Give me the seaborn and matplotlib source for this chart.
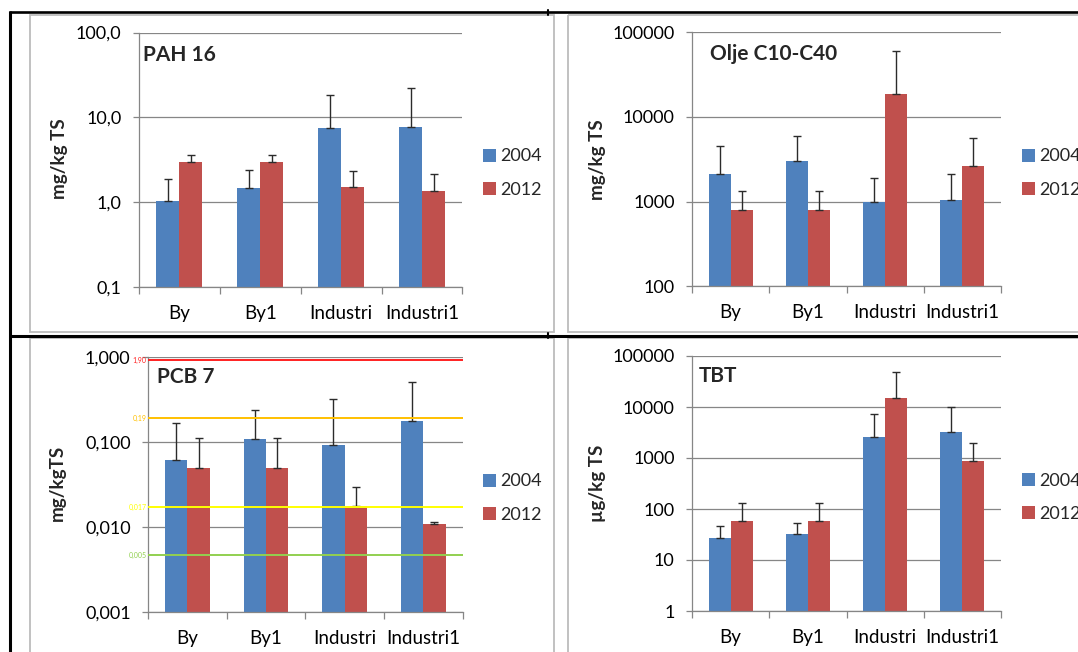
import numpy as np
import pandas as pd
import matplotlib
matplotlib.use("Agg")
import matplotlib.pyplot as plt
import seaborn as sns
from matplotlib.patches import Patch, Rectangle
from matplotlib.ticker import FixedLocator, FixedFormatter, NullLocator

# ---------------- data ----------------
categories = ["By", "By1", "Industri", "Industri1"]
years = ["2004", "2012"]

# PAH 16 (mg/kg TS): means and upper standard deviations
pah_2004 = [1.03, 1.46, 7.4, 7.6]
pah_2012 = [2.95, 2.95, 1.5, 1.36]
pah_2004_sd = [0.84, 0.91, 10.9, 14.8]
pah_2012_sd = [0.68, 0.68, 0.82, 0.76]
pah_ticks = [0.1, 1, 10, 100]
pah_tick_labels = ["0,1", "1,0", "10,0", "100,0"]

# Olje C10-C40 (mg/kg TS)
olje_2004 = [2100, 3040, 980, 1050]
olje_2012 = [790, 790, 18800, 2610]
olje_2004_sd = [2440, 2910, 920, 1090]
olje_2012_sd = [560, 560, 41000, 2990]
olje_ticks = [100, 1000, 10000, 100000]
olje_tick_labels = ["100", "1000", "10000", "100000"]

# PCB 7 (mg/kg TS)
pcb_2004 = [0.061, 0.107, 0.091, 0.175]
pcb_2012 = [0.0486, 0.0486, 0.0177, 0.0108]
pcb_2004_sd = [0.103, 0.127, 0.227, 0.333]
pcb_2012_sd = [0.0624, 0.0624, 0.0116, 0.0007]
pcb_ticks = [0.001, 0.01, 0.1, 1]
pcb_tick_labels = ["0,001", "0,010", "0,100", "1,000"]
# class limits drawn as horizontal lines
pcb_limits = [0.91, 0.19, 0.017, 0.0046]
pcb_limit_labels = ["1,90", "0,19", "0,017", "0,005"]
pcb_limit_colors = ["#ff2020", "#ffc000", "#ffff00", "#92d050"]

# TBT (µg/kg TS)
tbt_2004 = [27, 33, 2540, 3190]
tbt_2012 = [58, 58, 15000, 860]
tbt_2004_sd = [20, 21, 4860, 6660]
tbt_2012_sd = [73, 73, 34300, 1110]
tbt_ticks = [1, 10, 100, 1000, 10000, 100000]
tbt_tick_labels = ["1", "10", "100", "1000", "10000", "100000"]

# ---------------- style ----------------
sns.set_style("white")
plt.rcParams["font.family"] = ["Lato", "DejaVu Sans"]

BLUE = "#4f81bd"
RED = "#c0504d"
GRID = "#868686"
FRAME = "#bcbcbc"

W, H = 1078, 652
fig = plt.figure(figsize=(W / 100, H / 100), dpi=100)


def fig_box(x0, y0, x1, y1):
    """Axes rectangle from pixel corners measured from the top-left."""
    return [x0 / W, 1 - y1 / H, (x1 - x0) / W, (y1 - y0) / H]


# background layer: table rules and chart frames
bg = fig.add_axes([0, 0, 1, 1], zorder=-10)
bg.set_xlim(0, W)
bg.set_ylim(H, 0)
bg.axis("off")
for (x0, y0, x1, y1) in [(30, 14.5, 554, 332), (568, 14.5, 1090, 332),
                         (30, 338, 554, 670), (568, 338, 1090, 670)]:
    bg.add_patch(Rectangle((x0, y0), x1 - x0, y1 - y0, fill=False,
                           edgecolor=FRAME, lw=1.3))
bg.plot([9, W], [12, 12], color="black", lw=1.9, solid_capstyle="butt")
bg.plot([9, W], [335.5, 335.5], color="black", lw=2.2, solid_capstyle="butt")
bg.plot([10, 10], [11, H], color="black", lw=2.2, solid_capstyle="butt")
for yy in (12, 335.5):
    bg.plot([548, 548], [yy - 2.5, yy + 2.5], color="black", lw=1.5)

panels = [
    dict(title="PAH 16", v04=pah_2004, v12=pah_2012, s04=pah_2004_sd, s12=pah_2012_sd,
         ticks=pah_ticks, labels=pah_tick_labels, ylabel="mg/kg TS",
         box=(139, 32.5, 462.5, 286.7), title_xy=(0.012, 0.912),
         ylabel_xy=(59, 159), legend_xy=(483, 173)),
    dict(title="Olje C10-C40", v04=olje_2004, v12=olje_2012, s04=olje_2004_sd, s12=olje_2012_sd,
         ticks=olje_ticks, labels=olje_tick_labels, ylabel="mg/kg TS",
         box=(692, 32.3, 1001, 286.3), title_xy=(0.058, 0.913),
         ylabel_xy=(597, 160), legend_xy=(1022, 173)),
    dict(title="PCB 7", v04=pcb_2004, v12=pcb_2012, s04=pcb_2004_sd, s12=pcb_2012_sd,
         ticks=pcb_ticks, labels=pcb_tick_labels, ylabel="mg/kgTS",
         box=(148, 356.7, 462.5, 611.7), title_xy=(0.029, 0.919),
         ylabel_xy=(57, 483), legend_xy=(483, 498)),
    dict(title="TBT", v04=tbt_2004, v12=tbt_2012, s04=tbt_2004_sd, s12=tbt_2012_sd,
         ticks=tbt_ticks, labels=tbt_tick_labels, ylabel="µg/kg TS",
         box=(692, 356, 1001, 611), title_xy=(0.023, 0.922),
         ylabel_xy=(597, 483), legend_xy=(1022, 497.5)),
]

for p in panels:
    ax = fig.add_axes(fig_box(*p["box"]))
    ax.set_yscale("log")
    df = pd.DataFrame({
        "site": categories * 2,
        "year": [years[0]] * len(categories) + [years[1]] * len(categories),
        "value": list(p["v04"]) + list(p["v12"]),
    })
    sns.barplot(data=df, x="site", y="value", hue="year", palette=[BLUE, RED],
                width=0.57, gap=0, errorbar=None, legend=False, saturation=1,
                ax=ax)

    floor = p["ticks"][0]
    # bars rise from the bottom of the log axis; error bars point upward only
    for cont, vals, sds, col in zip(ax.containers, [p["v04"], p["v12"]],
                                    [p["s04"], p["s12"]], [BLUE, RED]):
        xs = []
        for bar, v in zip(cont, vals):
            bar.set_y(floor)
            bar.set_height(v - floor)
            bar.set_facecolor(col)
            bar.set_edgecolor("none")
            bar.set_alpha(1)
            bar.set_zorder(2)
            xs.append(bar.get_x() + bar.get_width() / 2)
        ax.errorbar(xs, vals, yerr=[np.zeros(len(sds)), sds], fmt="none",
                    ecolor="#2b2b2b", elinewidth=1.0, capsize=3.2, capthick=1.0,
                    zorder=3)

    ax.set_ylim(p["ticks"][0], p["ticks"][-1])
    ax.yaxis.set_major_locator(FixedLocator(p["ticks"]))
    ax.yaxis.set_major_formatter(FixedFormatter(p["labels"]))
    ax.yaxis.set_minor_locator(NullLocator())
    ax.set_xlim(-0.5, len(categories) - 0.5)
    ax.set_xticks(range(len(categories)))
    ax.set_xticklabels(categories)
    ax.set_xticks(np.arange(-0.5, len(categories)), minor=True)
    ax.set_xlabel("")
    ax.set_ylabel("")

    ax.grid(axis="y", which="major", color=GRID, lw=0.9)
    ax.grid(axis="x", visible=False)
    ax.set_axisbelow(True)
    for side in ("top", "right"):
        ax.spines[side].set_visible(False)
    for side in ("left", "bottom"):
        ax.spines[side].set_color(GRID)
        ax.spines[side].set_linewidth(0.9)
    ax.tick_params(axis="y", which="major", left=True, length=4.5, width=0.9,
                   color=GRID, labelsize=13, pad=8, labelcolor="black")
    ax.tick_params(axis="x", which="major", bottom=True, length=0, labelsize=13.5, pad=13,
                   labelcolor="black")
    ax.tick_params(axis="x", which="minor", bottom=True, length=5, width=0.9,
                   color=GRID, direction="out")

    ax.text(*p["title_xy"], p["title"], transform=ax.transAxes, fontsize=15,
            fontweight="bold", ha="left", va="center", zorder=5)

    lx, ly = p["ylabel_xy"]
    fig.text(lx / W, 1 - ly / H, p["ylabel"], rotation=90, fontsize=13.5,
             fontweight="bold", ha="center", va="center")

    handles = [Patch(facecolor=BLUE, edgecolor="none"), Patch(facecolor=RED, edgecolor="none")]
    gx, gy = p["legend_xy"]
    fig.legend(handles, years, loc="center left", bbox_to_anchor=(gx / W, 1 - gy / H),
               frameon=False, fontsize=13, handlelength=0.72, handleheight=0.72,
               handletextpad=0.25, labelspacing=0.95, borderpad=0, borderaxespad=0)

    if p["title"] == "PCB 7":
        for val, lab, col in zip(pcb_limits, pcb_limit_labels, pcb_limit_colors):
            ax.axhline(val, color=col, lw=1.4, zorder=4)
            ax.text(-0.005, val, lab, transform=ax.get_yaxis_transform(),
                    fontsize=5, color=col, ha="right", va="center")

fig.savefig("out.png", dpi=100)
